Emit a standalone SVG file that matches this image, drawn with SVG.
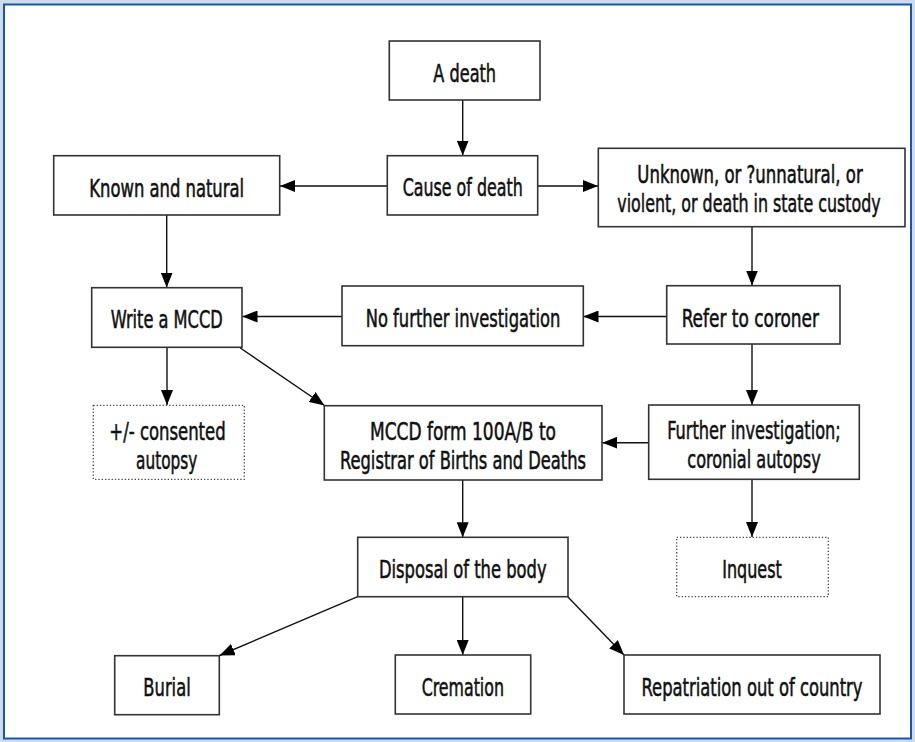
<svg xmlns="http://www.w3.org/2000/svg" width="915" height="742" viewBox="0 0 915 742">
<style>
.box{fill:#fff;stroke:#333;stroke-width:1.6}
.dot{fill:#fff;stroke:#444;stroke-width:1.3;stroke-dasharray:1.3 2}
.t{font-family:"Liberation Sans Narrow","DejaVu Sans Condensed","Liberation Sans",Arial,sans-serif;font-size:25px;fill:#111;stroke:#111;stroke-width:0.55;text-anchor:middle}
.c{stroke:#111;stroke-width:1.4;fill:none;marker-end:url(#ah)}
</style>
<defs>
<marker id="ah" markerUnits="userSpaceOnUse" markerWidth="15" markerHeight="12" refX="15" refY="6" orient="auto">
<path d="M0,0 L15,6 L0,12 Z" fill="#000"/>
</marker>
</defs>
<rect x="0" y="0" width="915" height="742" fill="#cadcee"/>
<rect x="4" y="4.5" width="907" height="734" fill="#fff" stroke="#22549e" stroke-width="2"/>

<g id="connectors">
<line class="c" x1="462.7" y1="100" x2="462.7" y2="155.5"/>
<line class="c" x1="387.3" y1="186" x2="280" y2="186"/>
<line class="c" x1="537.7" y1="186" x2="598" y2="186"/>
<line class="c" x1="166.7" y1="215" x2="166.7" y2="287.5"/>
<line class="c" x1="752" y1="227" x2="752" y2="285.5"/>
<line class="c" x1="666.7" y1="316.5" x2="583.5" y2="316.5"/>
<line class="c" x1="342" y1="316.5" x2="242.5" y2="316.5"/>
<line class="c" x1="167" y1="347.3" x2="167" y2="405"/>
<line class="c" x1="240.3" y1="348" x2="324.5" y2="405.5"/>
<line class="c" x1="752" y1="344" x2="752" y2="405"/>
<line class="c" x1="648.7" y1="442.7" x2="602.3" y2="442.7"/>
<line class="c" x1="752" y1="479.3" x2="752" y2="537"/>
<line class="c" x1="462.7" y1="480" x2="462.7" y2="537.3"/>
<line class="c" x1="357.7" y1="596.7" x2="219.5" y2="655.5"/>
<line class="c" x1="462.7" y1="596.7" x2="462.7" y2="655"/>
<line class="c" x1="567.7" y1="596.7" x2="624" y2="655"/>
</g>

<g id="a-death"><rect class="box" x="389.3" y="41" width="150.7" height="59"/>
<text class="t" transform="translate(464.7 82) scale(0.75 1)" textLength="83.6" lengthAdjust="spacingAndGlyphs">A death</text></g>

<g id="cause"><rect class="box" x="387.3" y="155.7" width="150.4" height="59.3"/>
<text class="t" transform="translate(462.7 196) scale(0.75 1)" textLength="160" lengthAdjust="spacingAndGlyphs">Cause of death</text></g>

<g id="known"><rect class="box" x="53.7" y="155.7" width="226" height="59.3"/>
<text class="t" transform="translate(166.7 196.5) scale(0.75 1)" textLength="206.3" lengthAdjust="spacingAndGlyphs">Known and natural</text></g>

<g id="unknown"><rect class="box" x="598.3" y="148.3" width="306.7" height="78.4"/>
<text class="t" transform="translate(750 182.5) scale(0.75 1)" textLength="300.5" lengthAdjust="spacingAndGlyphs">Unknown, or ?unnatural, or</text>
<text class="t" transform="translate(749 212) scale(0.75 1)" textLength="351.2" lengthAdjust="spacingAndGlyphs">violent, or death in state custody</text></g>

<g id="write"><rect class="box" x="91.7" y="287.7" width="150.3" height="59.6"/>
<text class="t" transform="translate(166.7 328.3) scale(0.75 1)" textLength="149.3" lengthAdjust="spacingAndGlyphs">Write a MCCD</text></g>

<g id="nfi"><rect class="box" x="342" y="286" width="241.3" height="59.7"/>
<text class="t" transform="translate(463 327) scale(0.75 1)" textLength="259.5" lengthAdjust="spacingAndGlyphs">No further investigation</text></g>

<g id="refer"><rect class="box" x="666.7" y="285.7" width="173.3" height="58.3"/>
<text class="t" transform="translate(750.3 327) scale(0.75 1)" textLength="183.1" lengthAdjust="spacingAndGlyphs">Refer to coroner</text></g>

<g id="consented"><rect class="dot" x="93.3" y="405.3" width="151" height="74"/>
<text class="t" transform="translate(167.5 440) scale(0.75 1)" textLength="155.1" lengthAdjust="spacingAndGlyphs">+/- consented</text>
<text class="t" transform="translate(166.7 468.5) scale(0.75 1)" textLength="81.7" lengthAdjust="spacingAndGlyphs">autopsy</text></g>

<g id="mccd-form"><rect class="box" x="324.3" y="405.7" width="277.7" height="74.3"/>
<text class="t" transform="translate(463 440) scale(0.75 1)" textLength="248" lengthAdjust="spacingAndGlyphs">MCCD form 100A/B to</text>
<text class="t" transform="translate(463 468.5) scale(0.75 1)" textLength="328" lengthAdjust="spacingAndGlyphs">Registrar of Births and Deaths</text></g>

<g id="further"><rect class="box" x="648.7" y="405" width="210.6" height="74.3"/>
<text class="t" transform="translate(754 439) scale(0.75 1)" textLength="231.2" lengthAdjust="spacingAndGlyphs">Further investigation;</text>
<text class="t" transform="translate(754 468) scale(0.75 1)" textLength="177.9" lengthAdjust="spacingAndGlyphs">coronial autopsy</text></g>

<g id="disposal"><rect class="box" x="357.7" y="537.3" width="210.3" height="59.4"/>
<text class="t" transform="translate(462.8 577.5) scale(0.75 1)" textLength="223.6" lengthAdjust="spacingAndGlyphs">Disposal of the body</text></g>

<g id="inquest"><rect class="dot" x="676.7" y="537.3" width="151.6" height="59.4"/>
<text class="t" transform="translate(752 577.5) scale(0.75 1)" textLength="79.2" lengthAdjust="spacingAndGlyphs">Inquest</text></g>

<g id="burial"><rect class="box" x="114.7" y="655.7" width="104.6" height="59"/>
<text class="t" transform="translate(167 695.5) scale(0.75 1)" textLength="63.1" lengthAdjust="spacingAndGlyphs">Burial</text></g>

<g id="cremation"><rect class="box" x="395.3" y="655" width="135.4" height="59"/>
<text class="t" transform="translate(462.8 695.5) scale(0.75 1)" textLength="109.7" lengthAdjust="spacingAndGlyphs">Cremation</text></g>

<g id="repatriation"><rect class="box" x="624" y="655" width="256" height="59"/>
<text class="t" transform="translate(752 695.5) scale(0.75 1)" textLength="294.7" lengthAdjust="spacingAndGlyphs">Repatriation out of country</text></g>
</svg>
